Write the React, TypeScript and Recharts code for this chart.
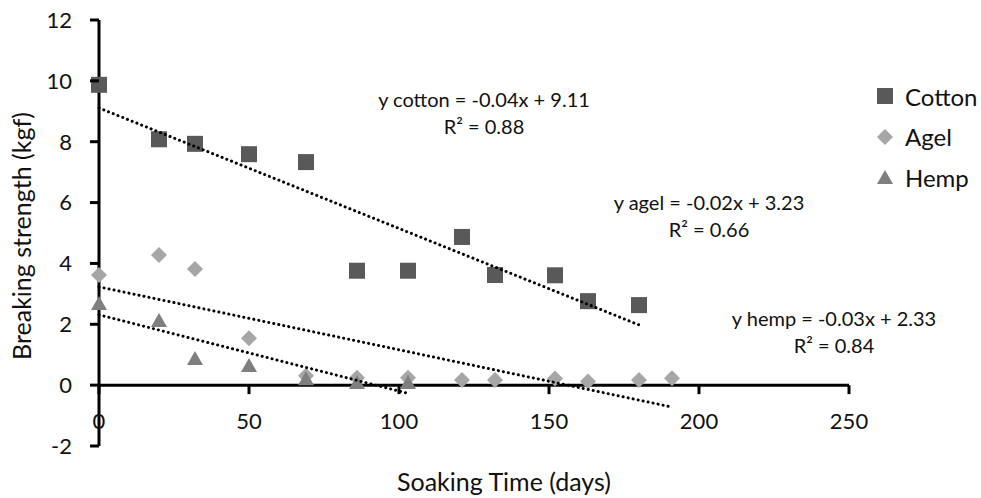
import React from 'react';
import { ScatterChart, Scatter, XAxis, YAxis, ReferenceLine, Legend } from 'recharts';

// soaking time (days) and breaking strength (kgf) per fibre
const cottonDays = [0, 20, 32, 50, 69, 86, 103, 121, 132, 152, 163, 180];
const cottonStrength = [9.87, 8.08, 7.93, 7.59, 7.33, 3.76, 3.76, 4.87, 3.62, 3.61, 2.76, 2.63];

const agelDays = [0, 20, 32, 50, 69, 86, 103, 121, 132, 152, 163, 180, 191];
const agelStrength = [3.62, 4.28, 3.82, 1.54, 0.31, 0.24, 0.24, 0.17, 0.17, 0.22, 0.12, 0.17, 0.23];

const hempDays = [0, 20, 32, 50, 69, 86, 103];
const hempStrength = [2.7, 2.14, 0.89, 0.66, 0.23, 0.1, 0.1];

// linear trend line end points
const cottonTrendDays = [0, 180];
const cottonTrendFit = [9.11, 1.98];
const agelTrendDays = [0, 191];
const agelTrendFit = [3.23, -0.72];
const hempTrendDays = [0, 103];
const hempTrendFit = [2.31, -0.27];

const seriesNames = ['Cotton', 'Agel', 'Hemp'];
const xTicks = [0, 50, 100, 150, 200, 250];
const yTicks = [-2, 0, 2, 4, 6, 8, 10, 12];

const toPoints = (xs: number[], ys: number[]) => xs.map((x, i) => ({ x, y: ys[i] }));

const W = 981;
const H = 498;
const MARGIN = { top: 20, right: 132, bottom: 0, left: 0 };
const Y_AXIS_W = 99;
const X_AXIS_H = 52;
const Y_DOMAIN: [number, number] = [-2, 12];
const PLOT_H = H - MARGIN.top - MARGIN.bottom - X_AXIS_H;
// distance between the bottom of the plot and the y = 0 line, where the x axis crosses
const ZERO_OFFSET = (PLOT_H * (0 - Y_DOMAIN[0])) / (Y_DOMAIN[1] - Y_DOMAIN[0]);

const FONT = 'Lato, "Open Sans", sans-serif';
const TEXT = '#111';
const AXIS_W = 3;

const COTTON = '#595959';
const AGEL = '#a6a6a6';
const HEMP = '#7f7f7f';

const squareShape = (fill: string) => (p: any) => (
    <rect x={p.cx - 8} y={p.cy - 8} width={16} height={16} fill={fill} />
);
const diamondShape = (fill: string) => (p: any) => (
    <path d={`M${p.cx},${p.cy - 8}L${p.cx + 8},${p.cy}L${p.cx},${p.cy + 8}L${p.cx - 8},${p.cy}Z`} fill={fill} />
);
const triangleShape = (fill: string) => (p: any) => (
    <path d={`M${p.cx},${p.cy - 7}L${p.cx + 8},${p.cy + 7}L${p.cx - 8},${p.cy + 7}Z`} fill={fill} />
);

const trendLine = { stroke: '#000', strokeWidth: 3, strokeDasharray: '0.1 5', strokeLinecap: 'round' as const };

const XTick = ({ x, y, payload }: any) => (
    <g>
        <line x1={x} x2={x} y1={y - ZERO_OFFSET} y2={y - ZERO_OFFSET + 9} stroke="#000" strokeWidth={AXIS_W} />
        <text x={x} y={y - ZERO_OFFSET + 44} textAnchor="middle" fill={TEXT} fontSize={22} fontFamily={FONT}>
            {payload.value}
        </text>
    </g>
);

const YTick = ({ x, y, payload }: any) => (
    <g>
        <line x1={x - 9} x2={x} y1={y} y2={y} stroke="#000" strokeWidth={AXIS_W} />
        <text x={x - 27} y={y} dy="0.36em" textAnchor="end" fill={TEXT} fontSize={22} fontFamily={FONT}>
            {payload.value}
        </text>
    </g>
);

const LegendIcon = ({ type, color }: { type: string; color: string }) => {
    if (type === 'square') return <rect x={7} y={7} width={16} height={16} fill={color} />;
    if (type === 'diamond') return <path d="M15,7L23,15L15,23L7,15Z" fill={color} />;
    return <path d="M15,8L23,22L7,22Z" fill={color} />;
};

const renderLegend = (props: any) => {
    const items = (props.payload || [])
        .filter((e: any) => seriesNames.includes(e.value))
        .sort((a: any, b: any) => seriesNames.indexOf(a.value) - seriesNames.indexOf(b.value));
    return (
        <div style={{ fontFamily: FONT, fontSize: 24, color: TEXT }}>
            {items.map((e: any) => (
                <div key={e.value} style={{ display: 'flex', alignItems: 'center', height: 40.5 }}>
                    <svg width={30} height={30}>
                        <LegendIcon type={e.type} color={e.color} />
                    </svg>
                    <span style={{ marginLeft: 5 }}>{e.value}</span>
                </div>
            ))}
        </div>
    );
};

const Note = ({ cx, cy, lines }: { cx: number; cy: number; lines: string[] }) => (
    <div
        style={{
            position: 'absolute',
            left: cx,
            top: cy,
            transform: 'translate(-50%, -50%)',
            textAlign: 'center',
            whiteSpace: 'nowrap',
            fontFamily: FONT,
            fontSize: 20,
            lineHeight: '27px',
            color: TEXT,
        }}
    >
        {lines.map((l) => (
            <div key={l}>{l}</div>
        ))}
    </div>
);

const App = () => {
    return (
        <div style={{ position: 'absolute', left: 0, top: 0, width: W, height: H, background: '#fff' }}>
            <ScatterChart width={W} height={H} margin={MARGIN}>
                <XAxis
                    dataKey="x"
                    type="number"
                    domain={[0, 250]}
                    ticks={xTicks}
                    height={X_AXIS_H}
                    axisLine={false}
                    tickLine={false}
                    tickSize={0}
                    tickMargin={0}
                    tick={(p: any) => <XTick {...p} />}
                />
                <YAxis
                    dataKey="y"
                    type="number"
                    domain={Y_DOMAIN}
                    ticks={yTicks}
                    width={Y_AXIS_W}
                    stroke="#000"
                    axisLine={{ stroke: '#000', strokeWidth: AXIS_W }}
                    tickLine={false}
                    tickSize={0}
                    tickMargin={0}
                    tick={(p: any) => <YTick {...p} />}
                />
                <ReferenceLine y={0} stroke="#000" strokeWidth={AXIS_W} ifOverflow="visible" />
                <Legend
                    layout="vertical"
                    align="center"
                    verticalAlign="middle"
                    wrapperStyle={{ left: 870, top: 76, width: 111 }}
                    content={renderLegend}
                />
                <Scatter name="Cotton" data={toPoints(cottonDays, cottonStrength)} fill={COTTON} legendType="square" shape={squareShape(COTTON)} isAnimationActive={false} />
                <Scatter name="Agel" data={toPoints(agelDays, agelStrength)} fill={AGEL} legendType="diamond" shape={diamondShape(AGEL)} isAnimationActive={false} />
                <Scatter name="Hemp" data={toPoints(hempDays, hempStrength)} fill={HEMP} legendType="triangle" shape={triangleShape(HEMP)} isAnimationActive={false} />
                <Scatter name="Cotton trend" data={toPoints(cottonTrendDays, cottonTrendFit)} line={trendLine} shape={() => <g />} legendType="none" isAnimationActive={false} />
                <Scatter name="Agel trend" data={toPoints(agelTrendDays, agelTrendFit)} line={trendLine} shape={() => <g />} legendType="none" isAnimationActive={false} />
                <Scatter name="Hemp trend" data={toPoints(hempTrendDays, hempTrendFit)} line={trendLine} shape={() => <g />} legendType="none" isAnimationActive={false} />
            </ScatterChart>

            <Note cx={484} cy={113} lines={['y cotton = -0.04x + 9.11', 'R² = 0.88']} />
            <Note cx={709} cy={215.5} lines={['y agel = -0.02x + 3.23', 'R² = 0.66']} />
            <Note cx={834} cy={331.5} lines={['y hemp = -0.03x + 2.33', 'R² = 0.84']} />

            <div
                style={{
                    position: 'absolute',
                    left: 504,
                    top: 481,
                    transform: 'translate(-50%, -50%)',
                    whiteSpace: 'nowrap',
                    fontFamily: FONT,
                    fontSize: 25,
                    color: TEXT,
                }}
            >
                Soaking Time (days)
            </div>
            <div
                style={{
                    position: 'absolute',
                    left: 21,
                    top: 236,
                    transform: 'translate(-50%, -50%) rotate(-90deg)',
                    whiteSpace: 'nowrap',
                    fontFamily: FONT,
                    fontSize: 25,
                    color: TEXT,
                }}
            >
                Breaking strength (kgf)
            </div>
        </div>
    );
};

export default App;
